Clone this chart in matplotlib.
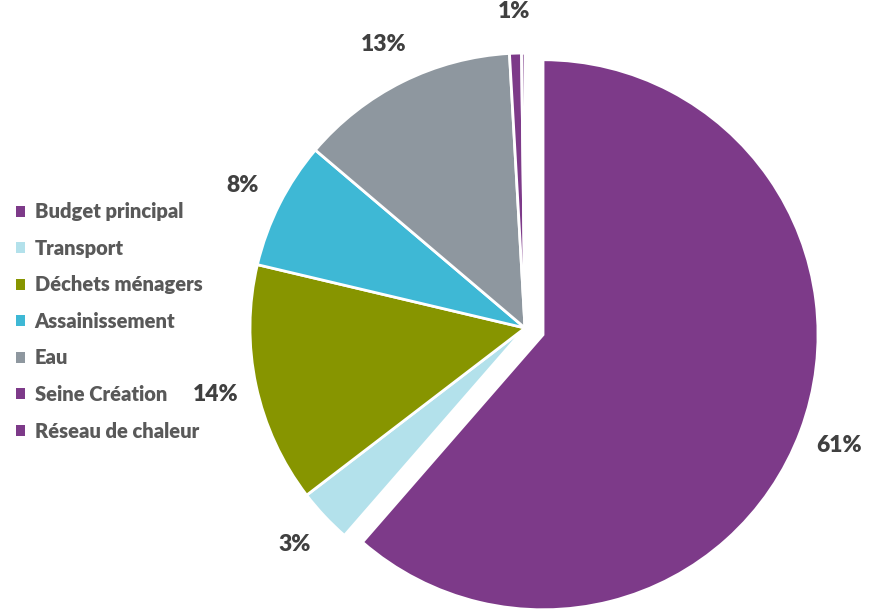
import matplotlib.pyplot as plt

names = ['Budget principal', 'Transport', 'Déchets ménagers', 'Assainissement',
         'Eau', 'Seine Création', 'Réseau de chaleur']
values = [61.4, 3.2, 14.1, 7.5, 12.9, 0.7, 0.2]
colors = ['#7D3A89', '#B3E1EB', '#879500', '#3EB8D5', '#8E979F', '#7D3A89', '#7D3A89']
explode = [0.07, 0, 0, 0, 0, 0, 0]

plt.rcParams['font.family'] = ['Lato', 'DejaVu Sans']

fig = plt.figure(figsize=(8.74, 6.10), dpi=100)
ax = fig.add_axes([0, 0, 1, 1])

pct_labels = [f'{v:.0f}%' if v >= 0.5 else '' for v in values]

wedges, texts = ax.pie(values, colors=colors, explode=explode, startangle=90,
                       counterclock=False, labels=pct_labels, labeldistance=1.15,
                       wedgeprops=dict(edgecolor='white', linewidth=2),
                       textprops=dict(fontsize=16.5, fontweight='heavy', color='#404040'))
for t in texts:
    t.set_ha('center')
    t.set_va('center')

# pixel mapping: centre at (525, 328) from top-left, radius 275 px
r = 275
ax.set_xlim(-525 / r, (874 - 525) / r)
ax.set_ylim(-(610 - 328) / r, 328 / r)
ax.set_aspect('equal')
ax.axis('off')

leg = fig.legend(wedges, names, loc='center left', bbox_to_anchor=(-0.002, 0.473),
                 frameon=False, handlelength=0.45, handleheight=0.45, handletextpad=0.45,
                 labelspacing=0.87, prop=dict(family='Lato', weight='heavy', size=14.5))
for t in leg.get_texts():
    t.set_color('#595959')
for h in leg.legend_handles:
    h.set_edgecolor('none')

fig.savefig('out.png', dpi=100)
